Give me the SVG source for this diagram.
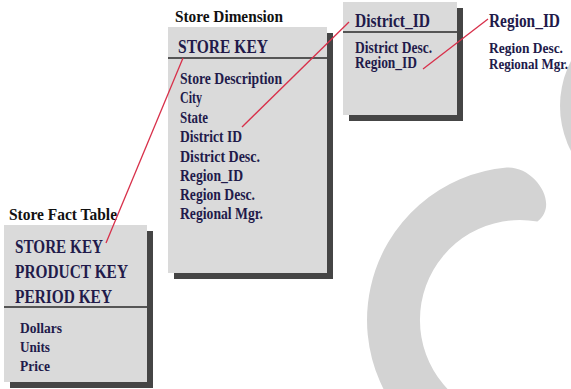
<svg xmlns="http://www.w3.org/2000/svg" width="571" height="389" viewBox="0 0 571 389">
  <style>
    .bg { fill: #ffffff; }
    .deco { fill: #d3d3d3; }
    .shadow { fill: #454545; }
    .panel { fill: #dadada; }
    .divider { stroke: #555555; stroke-width: 2; }
    .link { stroke: #d8304a; stroke-width: 1.3; fill: none; }
    text { font-family: "Liberation Serif", "Times New Roman", serif; font-weight: bold; }
    .title { fill: #111111; font-size: 17px; }
    .key { fill: #221a4a; font-size: 19.5px; }
    .key2 { fill: #221a4a; font-size: 18px; }
    .field { fill: #221a4a; font-size: 16px; }
    .small { fill: #221a4a; font-size: 15px; }
  </style>

  <rect class="bg" x="0" y="0" width="571" height="389"/>

  <!-- background ornaments -->
  <g id="ornaments">
    <path class="deco" d="M 506.7,167.6 C 535,166 560,205 537.4,221.5 A 100 100 0 0 0 470,406.6 L 443.5,452.5 A 153 153 0 0 1 506.7,167.6 Z"/>
    <circle class="deco" cx="658" cy="106" r="98"/>
  </g>

  <!-- store dimension table -->
  <g id="store-dimension">
    <text class="title" x="175" y="21.5" textLength="108" lengthAdjust="spacingAndGlyphs">Store Dimension</text>
    <rect class="shadow" x="174" y="33" width="159" height="246"/>
    <rect class="panel" x="168" y="27" width="159" height="246"/>
    <line class="divider" x1="168" y1="58" x2="327" y2="58"/>
    <text class="key" x="178" y="53" textLength="90" lengthAdjust="spacingAndGlyphs">STORE KEY</text>
    <text class="field" x="180" y="84" textLength="102" lengthAdjust="spacingAndGlyphs">Store Description</text>
    <text class="field" x="180" y="103.3" textLength="22" lengthAdjust="spacingAndGlyphs">City</text>
    <text class="field" x="180" y="122.6" textLength="28" lengthAdjust="spacingAndGlyphs">State</text>
    <text class="field" x="180" y="142" textLength="62" lengthAdjust="spacingAndGlyphs">District ID</text>
    <text class="field" x="180" y="161.5" textLength="80" lengthAdjust="spacingAndGlyphs">District Desc.</text>
    <text class="field" x="180" y="180.5" textLength="63" lengthAdjust="spacingAndGlyphs">Region_ID</text>
    <text class="field" x="180" y="200" textLength="75" lengthAdjust="spacingAndGlyphs">Region Desc.</text>
    <text class="field" x="180" y="219.3" textLength="83" lengthAdjust="spacingAndGlyphs">Regional Mgr.</text>
  </g>

  <!-- district table -->
  <g id="district">
    <rect class="shadow" x="349" y="8" width="114" height="113"/>
    <rect class="panel" x="343" y="2" width="114" height="113"/>
    <line class="divider" x1="343" y1="32" x2="457" y2="32"/>
    <text class="key2" x="355" y="27" textLength="75" lengthAdjust="spacingAndGlyphs">District_ID</text>
    <text class="field" x="355" y="52.5" textLength="77" lengthAdjust="spacingAndGlyphs">District Desc.</text>
    <text class="field" x="355" y="68" textLength="62" lengthAdjust="spacingAndGlyphs">Region_ID</text>
  </g>

  <!-- region table -->
  <g id="region">
    <text class="key2" x="489" y="27" textLength="71" lengthAdjust="spacingAndGlyphs">Region_ID</text>
    <text class="small" x="489" y="53" textLength="74" lengthAdjust="spacingAndGlyphs">Region Desc.</text>
    <text class="small" x="489" y="68.5" textLength="79" lengthAdjust="spacingAndGlyphs">Regional Mgr.</text>
  </g>

  <!-- fact table -->
  <g id="store-fact">
    <text class="title" x="9" y="220" textLength="108" lengthAdjust="spacingAndGlyphs">Store Fact Table</text>
    <rect class="shadow" x="10" y="231" width="143" height="157"/>
    <rect class="panel" x="4" y="225" width="143" height="157"/>
    <line class="divider" x1="4" y1="307" x2="147" y2="307"/>
    <text class="key" x="15" y="253" textLength="88" lengthAdjust="spacingAndGlyphs">STORE KEY</text>
    <text class="key" x="15" y="278" textLength="113" lengthAdjust="spacingAndGlyphs">PRODUCT KEY</text>
    <text class="key" x="15" y="303" textLength="97" lengthAdjust="spacingAndGlyphs">PERIOD KEY</text>
    <text class="small" x="20" y="333" textLength="42" lengthAdjust="spacingAndGlyphs">Dollars</text>
    <text class="small" x="20" y="352" textLength="30" lengthAdjust="spacingAndGlyphs">Units</text>
    <text class="small" x="20" y="371" textLength="30" lengthAdjust="spacingAndGlyphs">Price</text>
  </g>

  <!-- key links -->
  <g id="connectors">
    <line class="link" x1="106" y1="243" x2="183" y2="58"/>
    <line class="link" x1="242" y1="127" x2="349" y2="22"/>
    <line class="link" x1="423" y1="69" x2="488" y2="19"/>
  </g>
</svg>
